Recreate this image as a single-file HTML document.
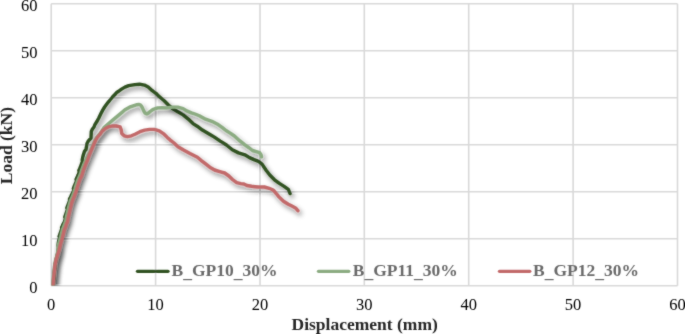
<!DOCTYPE html>
<html><head><meta charset="utf-8">
<style>
html,body{margin:0;padding:0;background:#fff;width:685px;height:334px;overflow:hidden}
svg{display:block;position:absolute;left:0;top:0;will-change:transform}
.t{font-family:"Liberation Serif",serif;font-size:16.5px;fill:#000}
.b{font-family:"Liberation Serif",serif;font-weight:bold;font-size:17.5px;fill:#262626}
.lg{font-family:"Liberation Serif",serif;font-weight:bold;font-size:17.5px;fill:#6b6b6b}
</style></head><body>
<svg width="685" height="334" viewBox="0 0 685 334">
<defs>
<filter id="sh" x="-10%" y="-10%" width="130%" height="130%">
<feGaussianBlur in="SourceAlpha" stdDeviation="2.4"/>
<feOffset dx="1.8" dy="3.3" result="o"/>
<feFlood flood-color="#000" flood-opacity="0.5"/>
<feComposite in2="o" operator="in"/>
<feMerge><feMergeNode/><feMergeNode in="SourceGraphic"/></feMerge>
</filter>
<clipPath id="pc"><rect x="51.2" y="0" width="640" height="285.6"/></clipPath>
<filter id="soft" x="0" y="0" width="685" height="334" filterUnits="userSpaceOnUse"><feConvolveMatrix order="3" kernelMatrix="0.02 0.08 0.02 0.08 0.6 0.08 0.02 0.08 0.02" edgeMode="duplicate"/></filter>
</defs>
<g filter="url(#soft)">
<!-- grid -->
<g stroke="#d9d9d9" stroke-width="1.6" fill="none">
<path d="M51.2 3.75H677.5M51.2 50.75H677.5M51.2 97.75H677.5M51.2 144.75H677.5M51.2 191.75H677.5M51.2 238.75H677.5"/>
<path d="M51.2 3.75V285.75M155.6 3.75V285.75M260 3.75V285.75M364.3 3.75V285.75M468.7 3.75V285.75M573.1 3.75V285.75M677.5 3.75V285.75"/>
<path d="M51.2 285.75H677.5"/>
</g>
<!-- y ticks -->
<g class="t" text-anchor="end">
<text x="37.5" y="11">60</text>
<text x="37.5" y="58">50</text>
<text x="37.5" y="105">40</text>
<text x="37.5" y="152">30</text>
<text x="37.5" y="199">20</text>
<text x="37.5" y="246">10</text>
<text x="37.5" y="293">0</text>
</g>
<g class="t" text-anchor="middle">
<text x="51.2" y="310">0</text>
<text x="155.6" y="310">10</text>
<text x="260" y="310">20</text>
<text x="364.3" y="310">30</text>
<text x="468.7" y="310">40</text>
<text x="573.1" y="310">50</text>
<text x="677.5" y="310">60</text>
</g>
<text class="b" x="364.7" y="329.7" text-anchor="middle">Displacement (mm)</text>
<text class="b" transform="translate(11.6 145.6) rotate(-90)" text-anchor="middle">Load (kN)</text>

<!-- curves -->
<g clip-path="url(#pc)" fill="none" stroke-width="3.4" stroke-linejoin="round" stroke-linecap="round">
<path filter="url(#sh)" id="g10" stroke="#325222" d="M53.2 287L53.6 280L54.3 272L55.2 264L56.5 258L58 252L58.3 250L58.35 248.5L58.46 247L58.12 245.5L58.17 244L58.38 242.5L58.64 241L59.06 239.5L59.66 238L59.09 236.5L59.62 235L60.14 233.5L60.67 232L61.18 230.5L61.82 229L61.62 227.5L62.33 226L62.96 224.5L63.72 223L64.55 221.5L64.99 220L65.43 218.5L64.79 217L65.3 215.5L65.82 214L66.35 212.5L66.88 211L67.39 209.5L66.8 208L67.36 206.5L67.93 205L68.51 203.5L69.09 202L69.72 200.5L69.46 199L70.31 197.5L71.04 196L71.71 194.5L72.49 193L73.28 191.5L73.87 190L73.36 188.5L73.95 187L74.59 185.5L75.24 184L75.89 182.5L76.52 181L76.06 179.5L76.74 178L77.45 176.5L78.11 175L78.7 173.5L79.3 172L78.84 170.5L79.56 169L80.23 167.5L80.76 166L81.29 164.5L81.83 163L82.55 161.5L82.17 160L82.8 157L83.3 155L84.5 151.3L86 149.4L86.9 143.7L88.4 140.8L91 138L91.3 131.5L92.3 129.3L94 127L94.9 124.7L97.2 121L98.9 117.7L100.8 113.8L102.7 110.1L104.6 107L106.6 104.3L108.5 101.8L110.4 99.5L112.5 97L114.7 94.7L117 92.2L119 91L121.5 89.1L124.9 87.1L128.7 85.6L134.8 84.6L139.6 84.2L144.4 85.1L148.2 87L152 90.4L155.9 93.3L158.7 96.2L161 98L164.2 100.8L168.4 105L172.6 108.6L177.8 111.8L183.1 114.9L188.3 119.1L193 123.6L197.2 126.2L202.4 130.1L208.7 133.7L214 136.9L220.3 141.1L226.5 145L232.3 149.8L238.6 152.9L244.9 154.8L249.5 157.6L254 159.6L258.5 161.3L262.2 164.4L266.3 170.5L269.8 175L274.5 179.8L279.4 183.4L284.1 186.4L288.3 189.4L290.1 193.6"/>
<path filter="url(#sh)" id="g11" stroke="#8cac82" d="M53 287L52.94 281L53.38 277L53.83 273L54.25 269L54.72 265L55.5 261L56.6 257L57.56 253L58.07 249L58.37 245L59.53 241L60.65 237L61.6 233L62.64 229L64.2 225L65.69 221L66.41 217L67.34 213L68.26 209L69.27 205L70.35 201L72.2 197L73.63 193L74.95 189L76.13 185L77.49 181L79.26 177L80.73 173L82.03 169L83.57 165L85.36 161L88.14 155.2L90.74 150.4L93.2 144.7L94.96 140.6L96.64 137.6L99.4 134.4L101.93 130.9L103.9 127.8L107.5 124.5L113 119.9L115.4 117.9L121.4 112.9L125 109.8L129.5 107.2L134 105.6L137 104.7L138.8 104.4L140.2 104.8L141.3 105.9L142.3 107.6L143.2 109.6L144.2 111.8L145.2 113.2L146.7 113.8L148.2 113.2L149.7 111.9L151.5 110.5L153.4 109.3L155.5 108.5L157.9 107.9L162 107.8L166.3 107.9L172.6 107.1L177.8 107.1L183.1 108.6L187.3 111.2L191.4 112.8L195 114L199.3 115.8L205.6 119.2L211.9 121.3L217.1 123.9L222.4 127.6L226 130.5L230.2 133.1L234.4 136L239.6 140.7L244.9 144.9L248.7 147.5L252.5 150.5L256.2 151.6L259.6 152.7L261.1 155L261.5 156.8"/>
<path filter="url(#sh)" id="g12" stroke="#c26a6b" d="M52.9 287L53.3 280L53.9 275.2L54.9 265.6L56 260L57.2 256L59.1 250L60.5 244L62.2 238.5L63.5 233L64.3 229.5L65.5 227L66.4 224L67.5 221.5L68.2 217.5L69 214L69.6 211.5L70.5 207.5L72.3 200.8L74 197L75 194L76 191.7L77.3 187L78.5 183.2L80 179L81.8 175.6L83.1 171L84.2 168L86.15 163L87.5 160L89.2 155.2L91.28 150.4L93.7 144.7L95.5 140.5L97.2 137.5L99.83 134.5L102.2 131.1L105.2 128.5L109 126.6L113 125.9L116.1 126L120.1 126.9L121.3 130.1L121.7 133.4L124.2 135.8L127.4 136.6L131.4 135.8L135 134.2L139.9 131.7L144.7 130.1L149.6 129.4L154.4 129.4L159.3 130.9L164.1 134.2L167.3 137.4L170 139.8L174 143L178 146.8L184 150.3L190 153.5L197.4 157.2L201 160.3L205 163.4L209.8 167.2L214.6 170L220.6 171.8L224.7 173L228.9 176L232.5 179.5L236.7 182.7L240.9 183.6L243.9 184L246.9 185.5L251.6 186.3L255 186.7L258 187L264.4 187L269.2 188.3L272 189.5L274 190.8L276.5 193.8L278.7 196.6L283.5 201.3L288.3 204.3L291.9 206.1L295.5 207.9L297.9 210.7"/>
</g>

<!-- legend -->
<g stroke-width="3.3" stroke-linecap="round">
<path stroke="#325222" d="M137.5 271.35H168"/>
<path stroke="#8cac82" d="M318.5 271.35H348.8"/>
<path stroke="#c26a6b" d="M499.5 271.35H529.8"/>
</g>
<g class="lg">
<text x="171.5" y="275.7">B<tspan dy="2.6">_</tspan><tspan dy="-2.6">GP10</tspan><tspan dy="2.6">_</tspan><tspan dy="-2.6">30%</tspan></text>
<text x="352.8" y="275.7">B<tspan dy="2.6">_</tspan><tspan dy="-2.6">GP11</tspan><tspan dy="2.6">_</tspan><tspan dy="-2.6">30%</tspan></text>
<text x="533" y="275.7">B<tspan dy="2.6">_</tspan><tspan dy="-2.6">GP12</tspan><tspan dy="2.6">_</tspan><tspan dy="-2.6">30%</tspan></text>
</g>
</g>
</svg>
</body></html>
